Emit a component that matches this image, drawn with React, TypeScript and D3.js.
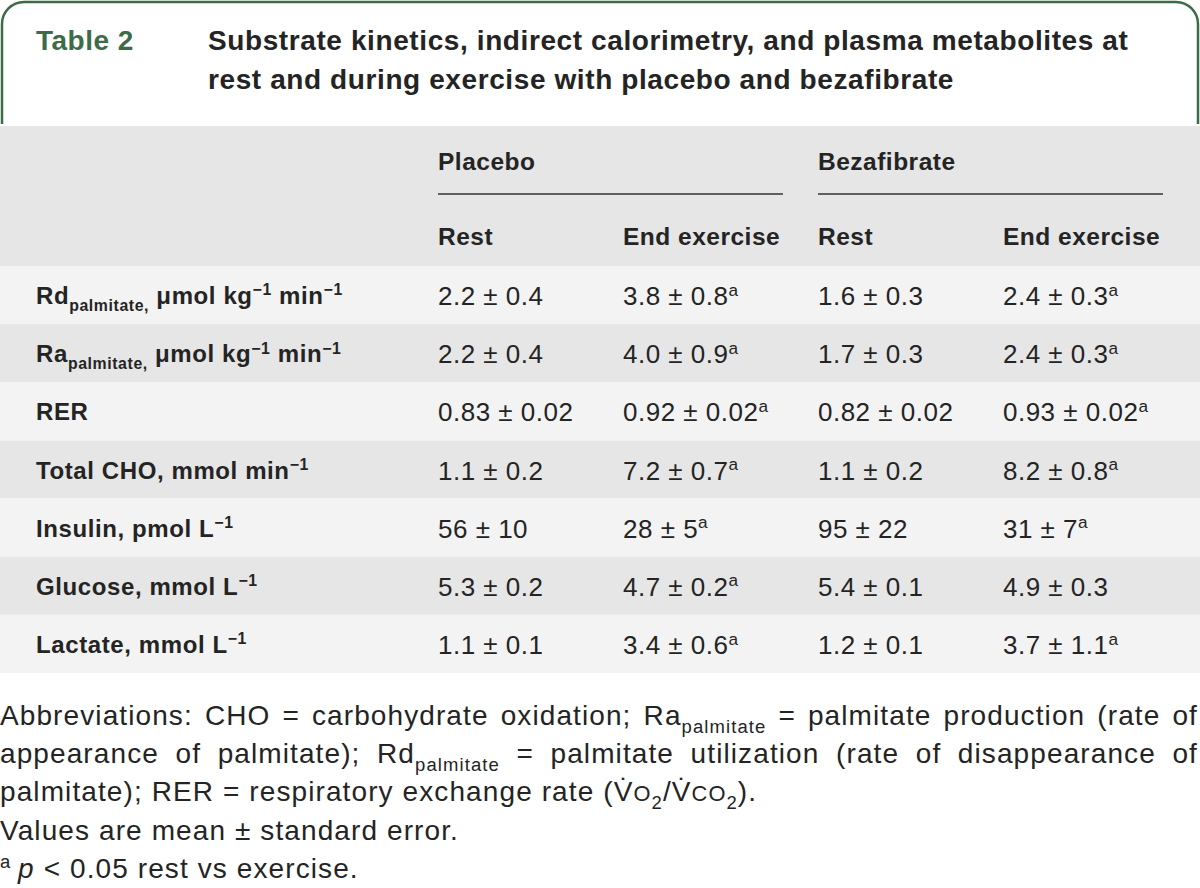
import React, { useEffect, useRef } from 'react';
import * as d3 from 'd3';

// markup: _{sub} ^{sup} *{italic} ~{small caps}
const tableNumber = 'Table 2';
const titleLines = [
  'Substrate kinetics, indirect calorimetry, and plasma metabolites at',
  'rest and during exercise with placebo and bezafibrate',
];
const groups = ['Placebo', 'Bezafibrate'];
const phases = ['Rest', 'End exercise'];
const rowLabels = [
  'Rd_{palmitate,} μmol kg^{−1} min^{−1}',
  'Ra_{palmitate,} μmol kg^{−1} min^{−1}',
  'RER',
  'Total CHO, mmol min^{−1}',
  'Insulin, pmol L^{−1}',
  'Glucose, mmol L^{−1}',
  'Lactate, mmol L^{−1}',
];
const placeboRest = ['2.2 ± 0.4', '2.2 ± 0.4', '0.83 ± 0.02', '1.1 ± 0.2', '56 ± 10', '5.3 ± 0.2', '1.1 ± 0.1'];
const placeboExercise = ['3.8 ± 0.8^{a}', '4.0 ± 0.9^{a}', '0.92 ± 0.02^{a}', '7.2 ± 0.7^{a}', '28 ± 5^{a}', '4.7 ± 0.2^{a}', '3.4 ± 0.6^{a}'];
const bezaRest = ['1.6 ± 0.3', '1.7 ± 0.3', '0.82 ± 0.02', '1.1 ± 0.2', '95 ± 22', '5.4 ± 0.1', '1.2 ± 0.1'];
const bezaExercise = ['2.4 ± 0.3^{a}', '2.4 ± 0.3^{a}', '0.93 ± 0.02^{a}', '8.2 ± 0.8^{a}', '31 ± 7^{a}', '4.9 ± 0.3', '3.7 ± 1.1^{a}'];
const footnoteJustified = [
  'Abbreviations: CHO = carbohydrate oxidation; Ra_{palmitate} = palmitate production (rate of',
  'appearance of palmitate); Rd_{palmitate} = palmitate utilization (rate of disappearance of',
];
const footnoteLines = [
  'palmitate); RER = respiratory exchange rate (V\u0307~{O}_{2}/V\u0307~{CO}_{2}).',
  'Values are mean ± standard error.',
  '^{a}\u2009*{p} < 0.05 rest vs exercise.',
];

const W = 1200;
const H = 888;
const GREEN = '#3d6b48';
const INK = '#242424';
const FONT = '"Liberation Sans", Arial, Helvetica, sans-serif';

type Run = { text: string; kind: string };

function parseRich(s: string): Run[] {
  return s
    .split(/([_^*~]\{[^}]*\})/)
    .filter((p) => p.length)
    .map((p) => {
      const m = p.match(/^([_^*~])\{([^}]*)\}$/);
      if (!m) return { text: p, kind: 'n' };
      return { text: m[2], kind: m[1] };
    });
}

function appendRich(text: any, s: string, size: number) {
  let off = 0;
  parseRich(s).forEach((r) => {
    const target = r.kind === '_' ? size * 0.27 : r.kind === '^' ? -size * 0.36 : 0;
    const t = text.append('tspan').attr('dy', target - off).text(r.text);
    off = target;
    if (r.kind === '_' || r.kind === '^') t.attr('font-size', size * 0.66);
    if (r.kind === '~') t.attr('font-size', size * 0.78);
    if (r.kind === '*') t.attr('font-style', 'italic');
  });
}

export default function App() {
  const ref = useRef<SVGSVGElement>(null);

  useEffect(() => {
    const svg = d3.select(ref.current);
    svg.selectAll('*').remove();

    // title frame
    svg.append('path')
      .attr('d', 'M2,124 V24 A22,22 0 0 1 24,2 H1176 A22,22 0 0 1 1198,24 V124')
      .attr('fill', 'none')
      .attr('stroke', GREEN)
      .attr('stroke-width', 2.5);

    svg.append('text')
      .attr('x', 36).attr('y', 50)
      .attr('font-family', FONT).attr('font-weight', 700)
      .attr('font-size', 28).attr('letter-spacing', 0.5).attr('fill', GREEN)
      .text(tableNumber);

    svg.append('g').selectAll('text')
      .data(titleLines)
      .enter().append('text')
      .attr('x', 208)
      .attr('y', (d, i) => 50 + i * 39)
      .attr('font-family', FONT).attr('font-weight', 700)
      .attr('font-size', 28).attr('letter-spacing', 0.6).attr('fill', INK)
      .text((d) => d);

    // header block
    svg.append('rect').attr('x', 0).attr('y', 126).attr('width', W).attr('height', 140).attr('fill', '#e6e6e6');

    const y = d3.scaleBand<number>().domain(d3.range(rowLabels.length)).range([266, 673]);
    const groupX = d3.scaleBand<string>().domain(groups).range([438, 1163]).paddingInner(0.092);
    const phaseX = d3.scalePoint<string>().domain(phases).range([0, 185]);

    svg.append('g').selectAll('rect')
      .data(rowLabels)
      .enter().append('rect')
      .attr('x', 0).attr('width', W)
      .attr('y', (d, i) => y(i)!)
      .attr('height', y.bandwidth())
      .attr('fill', (d, i) => (i % 2 ? '#e6e6e6' : '#f3f3f3'));

    const head = svg.append('g')
      .attr('font-family', FONT).attr('font-weight', 700)
      .attr('font-size', 24.5).attr('letter-spacing', 0.5).attr('fill', INK);
    groups.forEach((gname) => {
      const gx = groupX(gname)!;
      head.append('text').attr('x', gx).attr('y', 170).text(gname);
      head.append('line')
        .attr('x1', gx).attr('x2', gx + groupX.bandwidth())
        .attr('y1', 194).attr('y2', 194)
        .attr('stroke', '#333').attr('stroke-width', 1.5);
      phases.forEach((p) => {
        head.append('text').attr('x', gx + phaseX(p)!).attr('y', 245).text(p);
      });
    });

    const labels = svg.append('g')
      .attr('font-family', FONT).attr('font-weight', 700)
      .attr('font-size', 24).attr('letter-spacing', 0.6).attr('fill', INK);
    rowLabels.forEach((lab, i) => {
      const t = labels.append('text').attr('x', 36).attr('y', y(i)! + y.bandwidth() / 2 + 9);
      appendRich(t, lab, 24);
    });

    const columns = [
      { group: 'Placebo', phase: 'Rest', values: placeboRest },
      { group: 'Placebo', phase: 'End exercise', values: placeboExercise },
      { group: 'Bezafibrate', phase: 'Rest', values: bezaRest },
      { group: 'Bezafibrate', phase: 'End exercise', values: bezaExercise },
    ];
    const cells = svg.append('g')
      .attr('font-family', FONT).attr('font-size', 26)
      .attr('letter-spacing', 0.5).attr('fill', INK);
    columns.forEach((col) => {
      col.values.forEach((v, i) => {
        const t = cells.append('text')
          .attr('x', groupX(col.group)! + phaseX(col.phase)!)
          .attr('y', y(i)! + y.bandwidth() / 2 + 10);
        appendRich(t, v, 26);
      });
    });

    // footnotes
    const foot = svg.append('g')
      .attr('font-family', FONT).attr('font-size', 28)
      .attr('letter-spacing', 1.1).attr('fill', INK);
    const lineY = (i: number) => 725 + i * 38.2;
    footnoteJustified.forEach((line, li) => {
      const words = line.split(' ');
      const nodes = words.map((w) => {
        const t = foot.append('text').attr('y', lineY(li));
        appendRich(t, w, 28);
        return t;
      });
      const widths = nodes.map((t) => (t.node() as SVGTextElement).getComputedTextLength());
      const gap = (1198 - d3.sum(widths)) / (words.length - 1);
      let x = 0;
      nodes.forEach((t, i) => {
        t.attr('x', x);
        x += widths[i] + gap;
      });
    });
    footnoteLines.forEach((line, li) => {
      const t = foot.append('text').attr('x', 0).attr('y', lineY(li + footnoteJustified.length));
      appendRich(t, line, 28);
    });
  }, []);

  return (
    <svg
      ref={ref}
      width={W}
      height={H}
      style={{ position: 'absolute', left: 0, top: 0, background: '#fff', display: 'block' }}
    />
  );
}
